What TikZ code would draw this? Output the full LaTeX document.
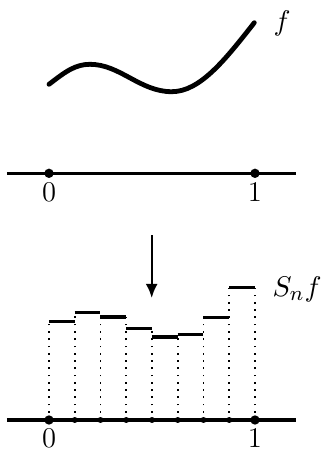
\documentclass[tikz,border=0pt]{standalone}
\usetikzlibrary{arrows.meta}
\begin{document}
\begin{tikzpicture}[x=0.385pt,y=-0.385pt,
  font=\fontsize{11}{13}\selectfont,
  axisline/.style={line width=1.3pt},
  curveline/.style={line width=1.85pt, line cap=round},
  bigdot/.style={circle,fill,inner sep=0pt,minimum size=3.6pt},
  smalldot/.style={circle,fill,inner sep=0pt,minimum size=2.3pt},
  stepbar/.style={line width=1.3pt},
  guide/.style={line width=0.65pt, dash pattern=on 0.65pt off 2.15pt},
  lbl/.style={anchor=base,inner sep=0pt}]
\useasboundingbox (0,0) rectangle (322,449);

% ---------- top: the function f ----------
\coordinate (tl) at (7,173.3);
\coordinate (tr) at (296,173.3);
\draw[axisline] (tl) -- (tr);
\node[bigdot] (t0) at (49,173.3) {};
\node[bigdot] (t1) at (255,173.3) {};
\node[lbl] (t0lbl) at (49,201) {0};
\node[lbl] (t1lbl) at (255,201) {1};

\draw[curveline] (49,84.3) .. controls (65,72) and (75,64.3) .. (90,64.3)
  .. controls (120,64.3) and (140,91.7) .. (171.7,91.7)
  .. controls (200,91.7) and (225,60) .. (254.3,22.7);
\node[anchor=base west,inner sep=0pt] (flbl) at (273,30) {$f$};

% ---------- arrow ----------
\coordinate (as) at (151.7,235);
\coordinate (ae) at (151.7,298);
\draw[line width=0.9pt,-{Latex[length=5.4pt,width=4.6pt]}] (as) -- (ae);

% ---------- bottom: the step function ----------
\coordinate (bl) at (7,420);
\coordinate (br) at (296,420);

% dotted guides
\foreach \i/\t in {0/321.7,1/312.3,2/312.3,3/317,4/328.3,5/334.7,6/317.3,7/287.7,8/287.7}{
  \coordinate (g\i) at ({49+\i*25.75},\t);
  \coordinate (p\i) at ({49+\i*25.75},420);
  \draw[guide] (p\i) -- (g\i);
}
\draw[axisline] (bl) -- (br);

% bars
\foreach \i/\h in {1/321.7,2/312.3,3/317,4/328.3,5/337,6/334.7,7/317.3,8/287.7}{
  \pgfmathsetmacro{\xa}{49+(\i-1)*25.75}
  \pgfmathsetmacro{\xb}{49+\i*25.75}
  \coordinate (s\i a) at (\xa,\h);
  \coordinate (s\i b) at (\xb,\h);
  \draw[stepbar] (s\i a) -- (s\i b);
}

% points on axis
\foreach \i in {1,...,7}{
  \node[smalldot] (q\i) at (p\i) {};
}
\node[bigdot] (b0) at (p0) {};
\node[bigdot] (b1) at (p8) {};
\node[lbl] (b0lbl) at (49,447) {0};
\node[lbl] (b1lbl) at (255,447) {1};
\node[anchor=base west,inner sep=0pt] (snlbl) at (272,296.5) {$S_nf$};
\end{tikzpicture}
\end{document}
